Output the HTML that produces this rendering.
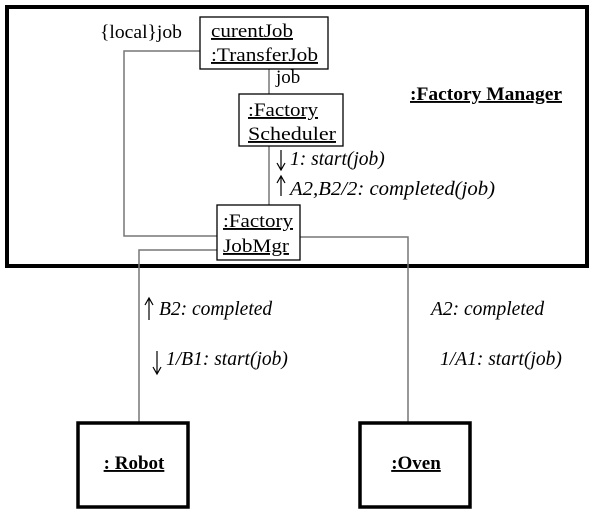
<!DOCTYPE html>
<html><head><meta charset="utf-8"><style>html,body{margin:0;padding:0;background:#fff}</style></head>
<body>
<svg width="593" height="515" xmlns="http://www.w3.org/2000/svg" font-family="Liberation Serif, serif">
<rect x="0" y="0" width="593" height="515" fill="#fff"/>
<rect x="7" y="7" width="580" height="259" fill="none" stroke="#000" stroke-width="4"/>
<g stroke="#777" stroke-width="1.5" fill="none">
<line x1="269" y1="69" x2="269" y2="94"/>
<line x1="269" y1="146" x2="269" y2="205"/>
<polyline points="200,51 124,51 124,236 217,236"/>
<polyline points="300,237 408,237 408,422"/>
<polyline points="217,250 139,250 139,422"/>
</g>
<g stroke="#000" stroke-width="1.3" fill="#fff">
<rect x="200" y="17" width="128" height="52"/>
<rect x="239" y="94" width="104" height="52"/>
<rect x="217" y="205" width="83" height="55"/>
</g>
<g stroke="#000" stroke-width="3.5" fill="#fff">
<rect x="78" y="423" width="110" height="84"/>
<rect x="360" y="423" width="110" height="84"/>
</g>
<g font-size="19" fill="#000" text-decoration="underline">
<text x="211" y="37" textLength="82" lengthAdjust="spacingAndGlyphs">curentJob</text>
<text x="211" y="61" textLength="107" lengthAdjust="spacingAndGlyphs">:TransferJob</text>
<text x="248" y="116" textLength="70" lengthAdjust="spacingAndGlyphs">:Factory</text>
<text x="248" y="140" textLength="88" lengthAdjust="spacingAndGlyphs">Scheduler</text>
<text x="223" y="227" textLength="70" lengthAdjust="spacingAndGlyphs">:Factory</text>
<text x="223" y="252" textLength="66" lengthAdjust="spacingAndGlyphs">JobMgr</text>
</g>
<g font-size="19" fill="#000">
<text x="100" y="38" textLength="82" lengthAdjust="spacingAndGlyphs">{local}job</text>
<text x="276" y="83">job</text>
</g>
<g font-size="19" font-weight="bold" fill="#000" text-decoration="underline">
<text x="410" y="100" textLength="152" lengthAdjust="spacingAndGlyphs">:Factory Manager</text>
<text x="134" y="469" text-anchor="middle">: Robot</text>
<text x="416" y="469" text-anchor="middle">:Oven</text>
</g>
<g font-size="19.5" font-style="italic" fill="#000">
<text x="290" y="165">1: start(job)</text>
<text x="290" y="195" textLength="205" lengthAdjust="spacingAndGlyphs">A2,B2/2: completed(job)</text>
<text x="159" y="315">B2: completed</text>
<text x="166" y="365">1/B1: start(job)</text>
<text x="431" y="315">A2: completed</text>
<text x="440" y="365">1/A1: start(job)</text>
</g>
<g stroke="#000" stroke-width="1.2" fill="none">
<path d="M281 150V170M277 163L281 170L285 163"/>
<path d="M281 196V176M277 183L281 176L285 183"/>
<path d="M149 320V298M145 305L149 298L153 305"/>
<path d="M157 351V374M153 367L157 374L161 367"/>
</g>
</svg>
</body></html>
